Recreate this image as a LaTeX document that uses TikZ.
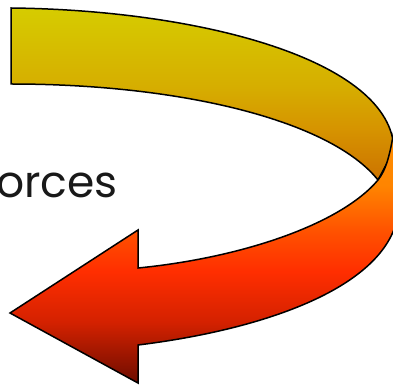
\documentclass[tikz,border=0pt]{standalone}
\usepackage{fontspec}
\newfontfamily\popfont{Poppins}
\pgfdeclareverticalshading{topband}{100bp}{%
  rgb(0bp)=(0.80,0.45,0.0);
  rgb(25bp)=(0.80,0.45,0.0);
  rgb(40bp)=(0.84,0.58,0.0);
  rgb(52bp)=(0.84,0.68,0.0);
  rgb(75bp)=(0.84,0.80,0.0);
  rgb(100bp)=(0.84,0.80,0.0)}
\pgfdeclareverticalshading{bottomband}{100bp}{%
  rgb(0bp)=(0.43,0.05,0.0);
  rgb(25bp)=(0.43,0.05,0.0);
  rgb(37bp)=(0.83,0.13,0.0);
  rgb(47bp)=(1.0,0.18,0.0);
  rgb(55bp)=(1.0,0.32,0.0);
  rgb(64bp)=(1.0,0.52,0.0);
  rgb(75bp)=(1.0,0.56,0.0);
  rgb(100bp)=(1.0,0.56,0.0)}
\tikzset{
  band/.style={draw=black, line width=1.5pt, line join=miter},
  lbl/.style={font=\popfont\fontsize{44}{50}\selectfont, text=black!90, inner sep=0pt, anchor=base west}
}
\begin{document}
\begin{tikzpicture}[x=1pt,y=-1pt]
\useasboundingbox (0,0) rectangle (393,387);
\clip (0,0) rectangle (393,387);
% back (upper) band
\path[band, shading=topband]
  (11,8) .. controls (200,10) and (392,60) .. (394,150)
  -- (378,180)
  .. controls (330,120) and (180,84) .. (11,84) -- cycle;
% front (lower) band with arrow head
\path[band, shading=bottomband]
  (394,130) .. controls (390,155) and (386,170) .. (378,180)
  .. controls (340,225) and (240,258) .. (138,268)
  -- (138,230) -- (10,313) -- (138,383) -- (138,345)
  .. controls (260,330) and (380,290) .. (397,220)
  -- (400,220) -- (400,130) -- cycle;
\node[lbl] (forces) at (-4,198) {orces};
\end{tikzpicture}
\end{document}
